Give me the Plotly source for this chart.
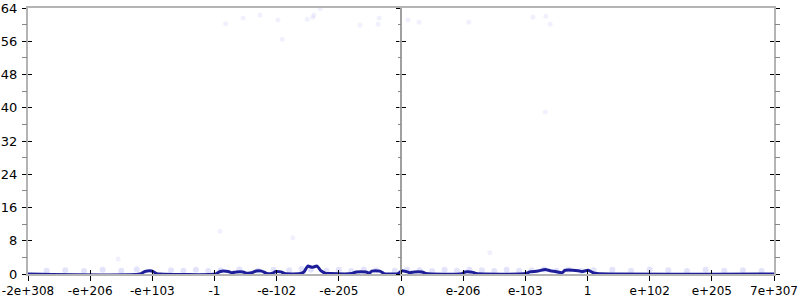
import plotly.graph_objects as go

# x positions are in "float-order" index units: 0 = -2e+308 ... 6 = 0 ... 12 = 7e+307
tick_vals = list(range(13))
tick_text = ["-2e+308", "-e+206", "-e+103", "-1", "-e-102", "-e-205", "0",
             "e-206", "e-103", "1", "e+102", "e+205", "7e+307"]

line_x = [0, 1.80, 1.88, 1.99, 2.07, 2.12, 3.02, 3.09, 3.22, 3.28, 3.35, 3.46, 3.52,
          3.60, 3.67, 3.76, 3.83, 3.92, 3.99, 4.07, 4.13, 4.38, 4.44, 4.50, 4.57, 4.65,
          4.71, 4.78, 4.86, 5.21, 5.28, 5.44, 5.49, 5.53, 5.66, 5.73, 5.95, 6.02, 6.08,
          6.14, 6.21, 6.34, 6.40, 6.98, 7.03, 7.16, 7.21, 8.01, 8.07, 8.20, 8.32, 8.40,
          8.49, 8.59, 8.64, 8.85, 8.91, 9.01, 9.09, 9.15, 12]
line_y = [0, 0, 0.6, 0.7, 0.1, 0, 0, 0.6, 0.6, 0.3, 0.5, 0.5, 0.2,
          0.3, 0.7, 0.7, 0.2, 0.1, 0.6, 0.5, 0.1, 0.1, 0.5, 1.9, 1.6, 1.9,
          0.8, 0.2, 0.1, 0.1, 0.5, 0.5, 0.2, 0.7, 0.7, 0.1, 0.1, 0.8, 0.6,
          0.3, 0.5, 0.5, 0.1, 0.1, 0.5, 0.4, 0.1, 0.1, 0.5, 0.7, 1.1, 0.8,
          0.6, 0.3, 0.9, 0.8, 0.6, 0.9, 0.3, 0.1, 0]

# scattered individual samples (faint)
far_x = [3.18, 3.46, 3.73, 4.02, 4.09, 4.49, 4.58, 4.60, 4.70, 5.34, 5.63, 5.65,
         6.11, 6.29, 7.09, 8.12, 8.33, 8.40, 3.09, 1.45, 4.26, 7.43, 8.32]
far_y = [60.2, 61.6, 62.3, 61.1, 56.5, 61.3, 61.8, 62.3, 63.8, 59.9, 60.1, 61.6,
         61.1, 60.6, 60.6, 61.8, 62.0, 60.1, 10.3, 3.6, 8.7, 5.1, 39.0]
# samples near the baseline
low_x = [0.3, 0.6, 0.9, 1.2, 1.5, 1.75, 2.3, 2.5, 2.7, 2.9, 3.1, 3.4, 3.7, 3.95,
         4.2, 4.4, 4.55, 4.8, 5.0, 5.2, 5.4, 5.6, 5.9, 6.1, 6.3, 6.5, 6.7, 6.9,
         7.1, 7.3, 7.5, 7.7, 7.9, 8.1, 8.3, 8.5, 8.7, 8.9, 9.1, 9.4, 9.7, 10.0,
         10.3, 10.6, 10.9, 11.2, 11.5, 11.8]
low_y = [0.8, 0.9, 0.7, 1.0, 0.8, 1.1, 0.9, 0.8, 1.0, 0.7, 0.9, 1.1, 0.8, 1.0,
         0.9, 1.2, 1.0, 0.8, 1.0, 0.7, 1.1, 0.9, 0.8, 1.0, 0.9, 0.7, 1.0, 0.8,
         1.0, 0.9, 0.7, 1.0, 0.8, 0.9, 1.1, 0.8, 1.0, 0.7, 0.9, 1.0, 0.8, 1.1,
         0.9, 0.7, 1.0, 0.8, 0.9, 0.7]

GRAY = "#b4b4b4"
fig = go.Figure()
fig.add_trace(go.Scatter(x=far_x, y=far_y, mode="markers",
                         marker=dict(size=5, color="rgba(60,60,230,0.07)", line=dict(width=0)),
                         hoverinfo="skip", showlegend=False))
fig.add_trace(go.Scatter(x=low_x, y=low_y, mode="markers",
                         marker=dict(size=6, color="rgba(60,60,230,0.14)", line=dict(width=0)),
                         hoverinfo="skip", showlegend=False))
fig.add_trace(go.Scatter(x=line_x, y=line_y, mode="lines",
                         line=dict(color="#1e1e9a", width=3, shape="spline", smoothing=0.6),
                         showlegend=False))

xfont = dict(family="DejaVu Sans", size=12, color="#000")
yfont = dict(family="DejaVu Sans", size=13, color="#000")
yr = [0, 64]
common_y = dict(range=yr, dtick=8, tick0=0, ticklen=4, tickwidth=1, tickcolor="#000",
                showgrid=False, zeroline=False, fixedrange=True, automargin=False,
                minor=dict(dtick=4, tick0=0, ticklen=2, tickcolor="#888", tickwidth=1))

fig.update_layout(
    width=800, height=300, margin=dict(l=28, r=26, t=8, b=26, autoexpand=False),
    paper_bgcolor="white", plot_bgcolor="white", font=xfont,
    xaxis=dict(range=[0, 12], tickvals=tick_vals, ticktext=tick_text, ticks="outside",
               ticklen=5, tickcolor="#000", showgrid=False, zeroline=False, automargin=False,
               showline=True, linecolor=GRAY, linewidth=2, mirror=True, tickfont=xfont,
               ticklabeloverflow="allow"),
    xaxis2=dict(range=[0, 12], overlaying="x", tickvals=tick_vals, ticks="inside",
                ticklen=4, tickcolor="#000", showticklabels=False, showgrid=False,
                zeroline=False, anchor="y", automargin=False),
    yaxis=dict(**common_y, ticks="outside", showline=True, linecolor=GRAY, linewidth=2,
               mirror="allticks", tickfont=yfont, ticklabelstandoff=2,
               ticklabeloverflow="allow"),
    yaxis2=dict(**common_y, ticks="inside", overlaying="y", showticklabels=False,
                mirror="allticks"),
    yaxis3=dict(**common_y, ticks="outside", overlaying="y", anchor="free", position=0.5,
                showticklabels=False, showline=True, linecolor="#a0a0a0", linewidth=1.5),
    yaxis4=dict(**common_y, ticks="inside", overlaying="y", anchor="free", position=0.5,
                showticklabels=False),
)
for ya in ["y2", "y3", "y4"]:
    fig.add_trace(go.Scatter(x=[None], y=[None], yaxis=ya, showlegend=False, hoverinfo="skip"))
fig.add_trace(go.Scatter(x=[None], y=[None], xaxis="x2", showlegend=False, hoverinfo="skip"))

fig.write_html("out.html")
